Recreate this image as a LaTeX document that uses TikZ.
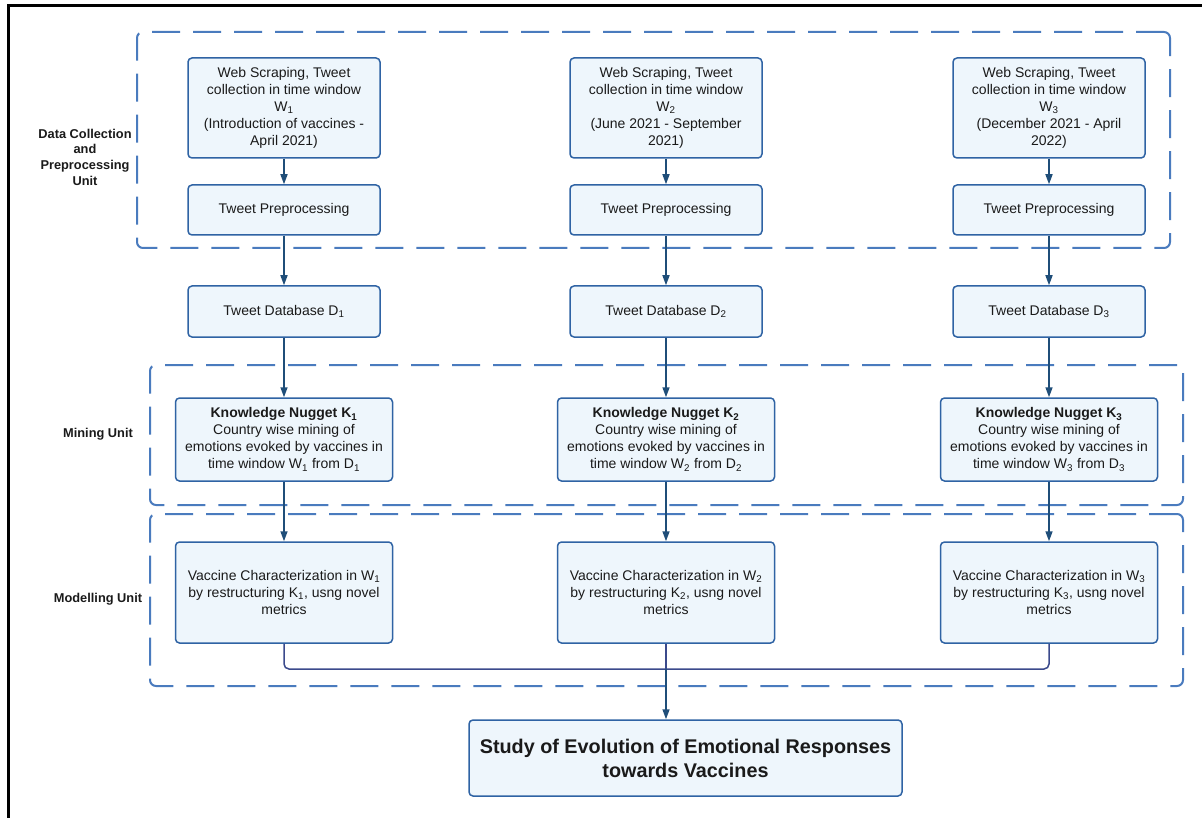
\documentclass[tikz,border=0pt]{standalone}
\usepackage{fontspec}
\setmainfont{Liberation Sans}
\usetikzlibrary{arrows.meta}
\definecolor{boxfill}{RGB}{238,246,252}
\definecolor{boxline}{RGB}{47,99,164}
\definecolor{dashline}{RGB}{74,123,190}
\definecolor{arrowc}{RGB}{31,78,121}
\definecolor{mergec}{RGB}{59,74,140}
\definecolor{txt}{RGB}{26,26,26}
\newcommand\sbs[1]{\textsubscript{#1}}
\begin{document}
\begin{tikzpicture}[x=1pt,y=-1pt,
  proc/.style={draw=boxline, fill=boxfill, line width=1.5pt, rounded corners=4pt,
    align=center, inner sep=0pt, font=\fontsize{14}{17}\selectfont, text=txt},
  webbox/.style={proc, minimum width=192pt, minimum height=100pt},
  prepbox/.style={proc, minimum width=192pt, minimum height=50pt},
  dbbox/.style={proc, minimum width=192pt, minimum height=51pt},
  knbox/.style={proc, minimum width=217pt, minimum height=83pt},
  vcbox/.style={proc, minimum width=217pt, minimum height=101pt},
  unitbox/.style={draw=dashline, line width=2pt, dash pattern=on 28pt off 13pt,
    rounded corners=6pt, inner sep=0pt},
  lab/.style={font=\fontsize{12.8}{15.7}\selectfont\bfseries, align=center, text=txt},
  flow/.style={draw=arrowc, line width=1.5pt, -{Triangle[length=10pt,width=7pt]}},
  merge/.style={draw=mergec, line width=1.5pt, rounded corners=5pt}]
\useasboundingbox (0,0) rectangle (1202,818);
\fill[white] (0,0) rectangle (1202,818);
% outer frame
\draw[line width=3pt, black] (8.7,818) -- (8.7,5.5) -- (1202,5.5);

% dashed unit containers
\node[unitbox, minimum width=1033pt, minimum height=216pt] (u1) at (653.5,140) {};
\node[unitbox, minimum width=1033pt, minimum height=140pt] (u2) at (666.5,435) {};
\node[unitbox, minimum width=1033pt, minimum height=172pt] (u3) at (666.5,600) {};

% unit labels
\node[lab] (l1) at (85,157) {Data Collection\\and\\Preprocessing\\Unit};
\node[lab] (l2) at (98,434) {Mining Unit};
\node[lab] (l3) at (98,599) {Modelling Unit};

% column 1
\node[webbox] (w1) at (284,108) {Web Scraping, Tweet\\collection in time window\\W\sbs{1}\\(Introduction of vaccines -\\April 2021)};
\node[prepbox] (p1) at (284,210) {Tweet Preprocessing};
\node[dbbox] (d1) at (284,311.5) {Tweet Database D\sbs{1}};
\node[knbox] (k1) at (284,439.5) {\textbf{Knowledge Nugget K\sbs{1}}\\Country wise mining of\\emotions evoked by vaccines in\\time window W\sbs{1} from D\sbs{1}};
\node[vcbox] (v1) at (284,592.5) {Vaccine Characterization in W\sbs{1}\\by restructuring K\sbs{1}, usng novel\\metrics};

% column 2
\node[webbox] (w2) at (666,108) {Web Scraping, Tweet\\collection in time window\\W\sbs{2}\\(June 2021 - September\\2021)};
\node[prepbox] (p2) at (666,210) {Tweet Preprocessing};
\node[dbbox] (d2) at (666,311.5) {Tweet Database D\sbs{2}};
\node[knbox] (k2) at (666,439.5) {\textbf{Knowledge Nugget K\sbs{2}}\\Country wise mining of\\emotions evoked by vaccines in\\time window W\sbs{2} from D\sbs{2}};
\node[vcbox] (v2) at (666,592.5) {Vaccine Characterization in W\sbs{2}\\by restructuring K\sbs{2}, usng novel\\metrics};

% column 3
\node[webbox] (w3) at (1049,108) {Web Scraping, Tweet\\collection in time window\\W\sbs{3}\\(December 2021 - April\\2022)};
\node[prepbox] (p3) at (1049,210) {Tweet Preprocessing};
\node[dbbox] (d3) at (1049,311.5) {Tweet Database D\sbs{3}};
\node[knbox] (k3) at (1049,439.5) {\textbf{Knowledge Nugget K\sbs{3}}\\Country wise mining of\\emotions evoked by vaccines in\\time window W\sbs{3} from D\sbs{3}};
\node[vcbox] (v3) at (1049,592.5) {Vaccine Characterization in W\sbs{3}\\by restructuring K\sbs{3}, usng novel\\metrics};

% final box
\node[proc, minimum width=433pt, minimum height=76pt,
  font=\fontsize{19.8}{24}\selectfont\bfseries] (fin) at (685.5,758)
  {Study of Evolution of Emotional Responses\\towards Vaccines};

% arrows
\foreach \c in {1,2,3}{
  \draw[flow] (w\c) -- (p\c);
  \draw[flow] (p\c) -- (d\c);
  \draw[flow] (d\c) -- (k\c);
  \draw[flow] (k\c) -- (v\c);
}
\coordinate (m) at (666,669);
\draw[merge] (v1.south) |- (m) -| (v3.south);
\draw[merge] (v2.south) -- (m);
\draw[flow] (m) -- (fin.north -| m);
\end{tikzpicture}
\end{document}
